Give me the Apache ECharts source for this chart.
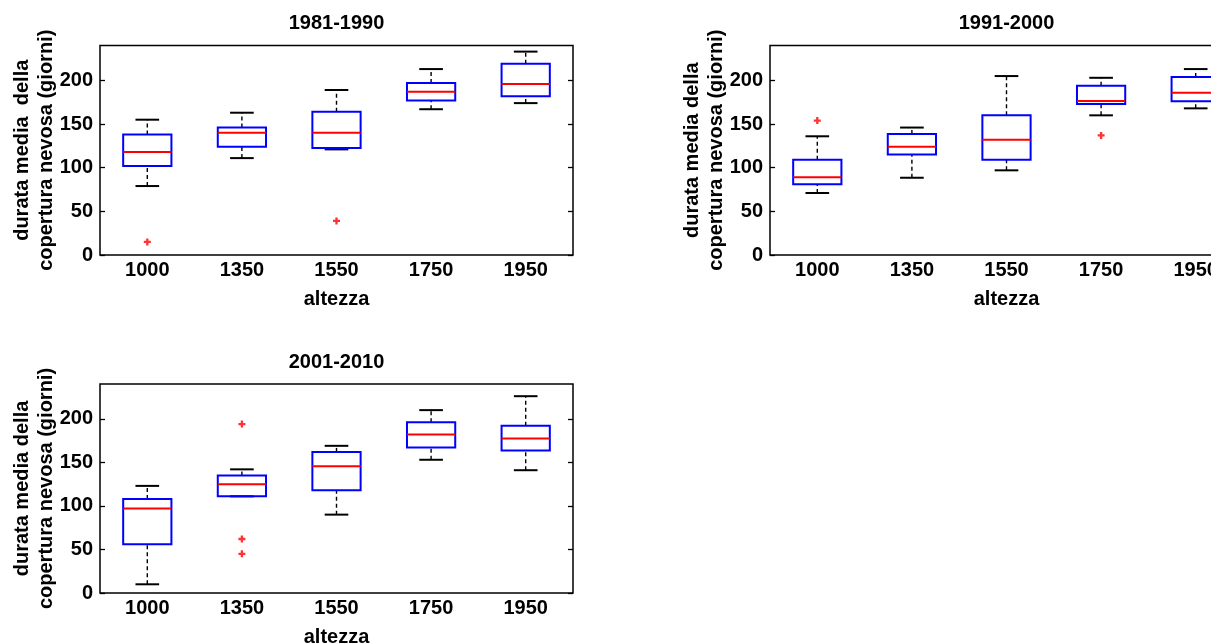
<!DOCTYPE html>
<html>
<head>
<meta charset="utf-8">
<title>durata media della copertura nevosa</title>
<script src="https://cdn.jsdelivr.net/npm/echarts@6/dist/echarts.min.js"></script>
<style>
  html, body { margin: 0; padding: 0; background: #fff; }
  #chart { width: 1211px; height: 644px; }
</style>
</head>
<body>
<div id="chart"></div>
<script>
// quote (altezza) e periodi
const categories = ['1000', '1350', '1550', '1750', '1950'];
const periods = ['1981-1990', '1991-2000', '2001-2010'];
const yTicks = [0, 50, 100, 150, 200];

// [baffo inf, q1, mediana, q3, baffo sup] per ogni quota
const box8190 = [
  [79, 102, 118, 138, 155],
  [111, 124, 140, 146, 163],
  [121, 122.5, 140, 164, 189],
  [167, 177, 187, 197, 213],
  [174, 182, 196, 219, 233]
];
const box9100 = [
  [71, 81, 89, 109, 136],
  [88.5, 115, 124, 138.5, 146],
  [97, 109, 132, 160, 205],
  [160, 173, 176.5, 194, 203],
  [168, 176, 186, 204, 213]
];
const box0110 = [
  [10, 56, 97, 108, 123],
  [111, 111, 125, 135, 142],
  [90, 118, 145.5, 162, 169],
  [153, 167, 182, 196, 210],
  [141, 163.5, 177.5, 192, 226]
];

// outlier: [indice quota, valore]
const out8190 = [[0, 15], [2, 39]];
const out9100 = [[0, 154], [3, 137]];
const out0110 = [[1, 194], [1, 62], [1, 45]];

const boxes = [box8190, box9100, box0110];
const outliers = [out8190, out9100, out0110];
const yLabels = [
  'durata media  della\ncopertura nevosa (giorni)',
  'durata media della\ncopertura nevosa (giorni)',
  'durata media della\ncopertura nevosa (giorni)'
];

// posizione dei tre pannelli
const panels = [
  { left: 100, top: 45.5, width: 473, height: 209.5 },
  { left: 770, top: 45.5, width: 473, height: 209.5 },
  { left: 100, top: 384, width: 473, height: 209 }
];

const FONT = 'Liberation Sans, Arial, Helvetica, sans-serif';
const textStyle = { fontFamily: FONT, fontWeight: 'bold', fontSize: 20, color: '#000' };

const renderBox = (params, api) => {
  const x = api.value(0);
  const pLow = api.coord([x, api.value(1)]);
  const pQ1 = api.coord([x, api.value(2)]);
  const pMed = api.coord([x, api.value(3)]);
  const pQ3 = api.coord([x, api.value(4)]);
  const pHigh = api.coord([x, api.value(5)]);
  const band = api.size([1, 0])[0];
  const hw = band * 0.255;
  const cw = band * 0.125;
  const cx = pMed[0];
  const dash = { stroke: '#000', lineWidth: 1.4, lineDash: [4, 3] };
  const solid = { stroke: '#000', lineWidth: 2 };
  return {
    type: 'group',
    children: [
      { type: 'line', shape: { x1: cx, y1: pQ3[1], x2: cx, y2: pHigh[1] }, style: dash },
      { type: 'line', shape: { x1: cx, y1: pLow[1], x2: cx, y2: pQ1[1] }, style: dash },
      { type: 'line', shape: { x1: cx - cw, y1: pHigh[1], x2: cx + cw, y2: pHigh[1] }, style: solid },
      { type: 'line', shape: { x1: cx - cw, y1: pLow[1], x2: cx + cw, y2: pLow[1] }, style: solid },
      {
        type: 'rect',
        shape: { x: cx - hw, y: pQ3[1], width: hw * 2, height: pQ1[1] - pQ3[1] },
        style: { fill: 'none', stroke: '#0000ff', lineWidth: 2 }
      },
      { type: 'line', shape: { x1: cx - hw, y1: pMed[1], x2: cx + hw, y2: pMed[1] }, style: { stroke: '#ff0000', lineWidth: 2 } }
    ]
  };
};

const PLUS = 'path://M2,0H4V2H6V4H4V6H2V4H0V2H2Z';

const grid = [];
const xAxis = [];
const yAxis = [];
const series = [];
const title = [];
const graphic = [];

panels.forEach((p, i) => {
  grid.push({
    left: p.left, top: p.top, width: p.width, height: p.height,
    show: true, borderColor: '#000', borderWidth: 1.5, backgroundColor: 'transparent',
    containLabel: false, outerBoundsMode: 'none'
  });
  xAxis.push({
    type: 'category', gridIndex: i, data: categories, boundaryGap: true,
    axisLine: { show: false }, axisTick: { show: false }, splitLine: { show: false },
    axisLabel: Object.assign({ margin: 5, interval: 0 }, textStyle),
    name: 'altezza', nameLocation: 'middle', nameGap: 34, nameTextStyle: textStyle
  });
  const yBase = {
    type: 'value', gridIndex: i, min: 0, max: 240, interval: 50,
    axisLine: { show: false }, splitLine: { show: false },
    axisTick: { show: true, inside: true, length: 5, lineStyle: { color: '#000', width: 1.3 }, customValues: yTicks }
  };
  yAxis.push(Object.assign({}, yBase, {
    position: 'left',
    axisLabel: Object.assign({ margin: 7, customValues: yTicks, formatter: v => (v > 200 ? '' : v) }, textStyle)
  }));
  yAxis.push(Object.assign({}, yBase, { position: 'right', axisLabel: { show: false } }));

  series.push({
    type: 'custom', xAxisIndex: i, yAxisIndex: i * 2,
    renderItem: renderBox,
    encode: { x: 0, y: [1, 2, 3, 4, 5] },
    data: boxes[i].map((b, k) => [k].concat(b)),
    silent: true
  });
  series.push({
    type: 'scatter', xAxisIndex: i, yAxisIndex: i * 2,
    symbol: PLUS, symbolSize: 7,
    itemStyle: { color: '#ff0000' },
    data: outliers[i],
    silent: true
  });

  title.push({
    text: periods[i], left: p.left + p.width / 2, top: p.top - 32, textAlign: 'center', padding: 0,
    textStyle: textStyle
  });
  graphic.push({
    type: 'text', x: p.left - 66, y: p.top + p.height / 2, rotation: Math.PI / 2,
    style: {
      text: yLabels[i], textAlign: 'center', textVerticalAlign: 'middle',
      font: 'bold 20px ' + FONT, fill: '#000', lineHeight: 24
    },
    silent: true
  });
});

const chart = echarts.init(document.getElementById('chart'), null, { renderer: 'canvas' });
chart.setOption({
  backgroundColor: '#fff',
  animation: false,
  title, grid, xAxis, yAxis, series, graphic
});
</script>
</body>
</html>
